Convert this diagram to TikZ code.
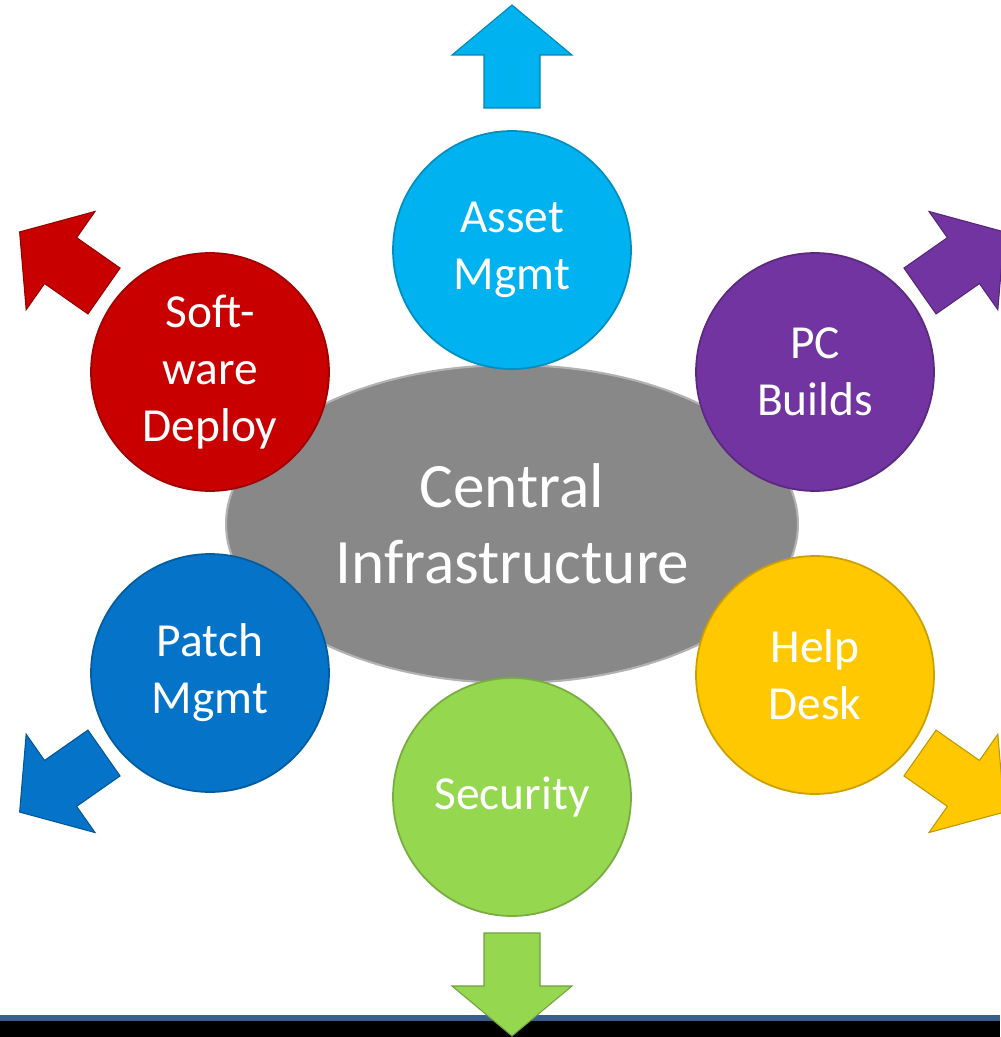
\documentclass[tikz,border=0pt]{standalone}
\usepackage{fontspec}
\setmainfont{Carlito}
\usetikzlibrary{shapes.geometric}
\usepackage{xcolor}
\definecolor{SkyBlue}{RGB}{0,178,240}
\definecolor{DeepRed}{RGB}{200,0,0}
\definecolor{Violet}{RGB}{114,52,160}
\definecolor{RoyalBlue}{RGB}{5,115,200}
\definecolor{Amber}{RGB}{255,200,0}
\definecolor{LeafGreen}{RGB}{150,215,80}
\definecolor{HubGray}{RGB}{136,136,136}
\definecolor{BandBlue}{RGB}{58,94,140}

% one fat outward arrow, base at #1, pointing at angle #2
\newcommand{\outarrow}[3]{%
  \begin{scope}[shift={#1}, rotate=#2]
    \filldraw[fill=#3, draw=#3!75!black, line width=0.6pt]
      (0,-28) -- (53,-28) -- (53,-60) -- (103,0) -- (53,60) -- (53,28) -- (0,28) -- cycle;
  \end{scope}}

\begin{document}
\begin{tikzpicture}[
          x=0.02cm, y=-0.02cm,
          topic/.style={circle, fill=#1, draw=#1!80!black, line width=1pt, minimum size=4.76cm,
                        text=white, align=center, font=\fontsize{27}{32.5}\selectfont},
          hub/.style={ellipse, fill=HubGray, draw=black!30, line width=1.2pt,
                      minimum width=11.44cm, minimum height=6.36cm,
                      text=white, align=center, font=\fontsize{36}{43}\selectfont}
        ]
          \useasboundingbox (0,0) rectangle (1000,1037);

          % bottom band
          \fill[BandBlue] (0,1015) rectangle (1000,1021);
          \fill[black] (0,1021) rectangle (1000,1037);

          % arrows pointing out
          \outarrow{(512,108)}{90}{SkyBlue}
          \outarrow{(104,291)}{145}{DeepRed}
          \outarrow{(920,291)}{35}{Violet}
          \outarrow{(104,753)}{-145}{RoyalBlue}
          \outarrow{(920,753)}{-35}{Amber}
          \outarrow{(512,933)}{-90}{LeafGreen}

          \node (infra) [hub] at (512,524) {Central\\Infrastructure};

          \node (asset) [topic=SkyBlue] at (512,250) {Asset\\Mgmt};
          \node (deploy) [topic=DeepRed] at (210,372) {Soft-\\ware\\Deploy};
          \node (pcbuild) [topic=Violet] at (815,372) {PC\\Builds};
          \node (patch) [topic=RoyalBlue] at (210,673) {Patch\\Mgmt};
          \node (helpdesk) [topic=Amber] at (815,675) {Help\\Desk};
          \node (security) [topic=LeafGreen] at (512,797) {Security};
        \end{tikzpicture}
\end{document}
